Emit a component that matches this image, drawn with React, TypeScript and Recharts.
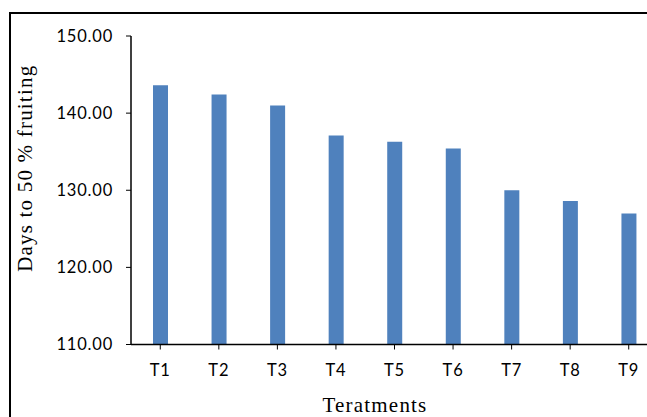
import React from 'react';
import { BarChart, Bar, XAxis, YAxis, Label } from 'recharts';

// Days to 50 % fruiting for each treatment
const treatments = ['T1', 'T2', 'T3', 'T4', 'T5', 'T6', 'T7', 'T8', 'T9'];
const daysToFruiting = [143.6, 142.4, 141.0, 137.1, 136.3, 135.4, 130.0, 128.6, 127.0];
const yTicks = [110, 120, 130, 140, 150];

const chartData = treatments.map((t, i) => ({ name: t, days: daysToFruiting[i] }));

const tickFont = { fontFamily: 'Lato, sans-serif', fontSize: 16.5, fill: '#000', letterSpacing: 0.8 };
const titleFont = { fontFamily: '"Liberation Serif", "Times New Roman", serif', fontSize: 21, letterSpacing: 1.2, fill: '#000' };

export default function App() {
  return (
    <div style={{ position: 'absolute', left: 0, top: 0, width: 647, height: 417, overflow: 'hidden', background: '#fff' }}>
      {/* outer frame, only the top and left edges fall inside the picture */}
      <div
        style={{
          position: 'absolute',
          left: 9,
          top: 12,
          width: 700,
          height: 500,
          borderTop: '2px solid #000',
          borderLeft: '2px solid #000',
        }}
      />
      <div style={{ position: 'absolute', left: 0, top: 0 }}>
        <BarChart
          width={700}
          height={417}
          data={chartData}
          margin={{ top: 36, right: 42, left: 0, bottom: 0 }}
          barCategoryGap={0}
        >
          <XAxis
            dataKey="name"
            height={72.5}
            stroke="#000"
            tickSize={5}
            tickMargin={15}
            tick={tickFont}
            tickLine={{ stroke: '#000' }}
            axisLine={{ stroke: '#000', strokeWidth: 1.5 }}
          >
            <Label
              content={({ viewBox }: any) => (
                <text x={375} y={viewBox.y + 67.5} textAnchor="middle" style={titleFont}>
                  Teratments
                </text>
              )}
            />
          </XAxis>
          <YAxis
            width={131}
            domain={[110, 150]}
            ticks={yTicks}
            interval={0}
            tickFormatter={(v: number) => v.toFixed(2)}
            stroke="#000"
            tickSize={5}
            tickMargin={13}
            tick={tickFont}
            tickLine={{ stroke: '#000' }}
            axisLine={{ stroke: '#000', strokeWidth: 1.5 }}
          >
            <Label
              content={({ viewBox }: any) => (
                <text
                  x={32}
                  y={viewBox.y + viewBox.height / 2 - 22}
                  textAnchor="middle"
                  transform={`rotate(-90, 32, ${viewBox.y + viewBox.height / 2 - 22})`}
                  style={titleFont}
                >
                  Days to 50 % fruiting
                </text>
              )}
            />
          </YAxis>
          <Bar dataKey="days" fill="#4F81BD" barSize={15} isAnimationActive={false} />
        </BarChart>
      </div>
    </div>
  );
}
